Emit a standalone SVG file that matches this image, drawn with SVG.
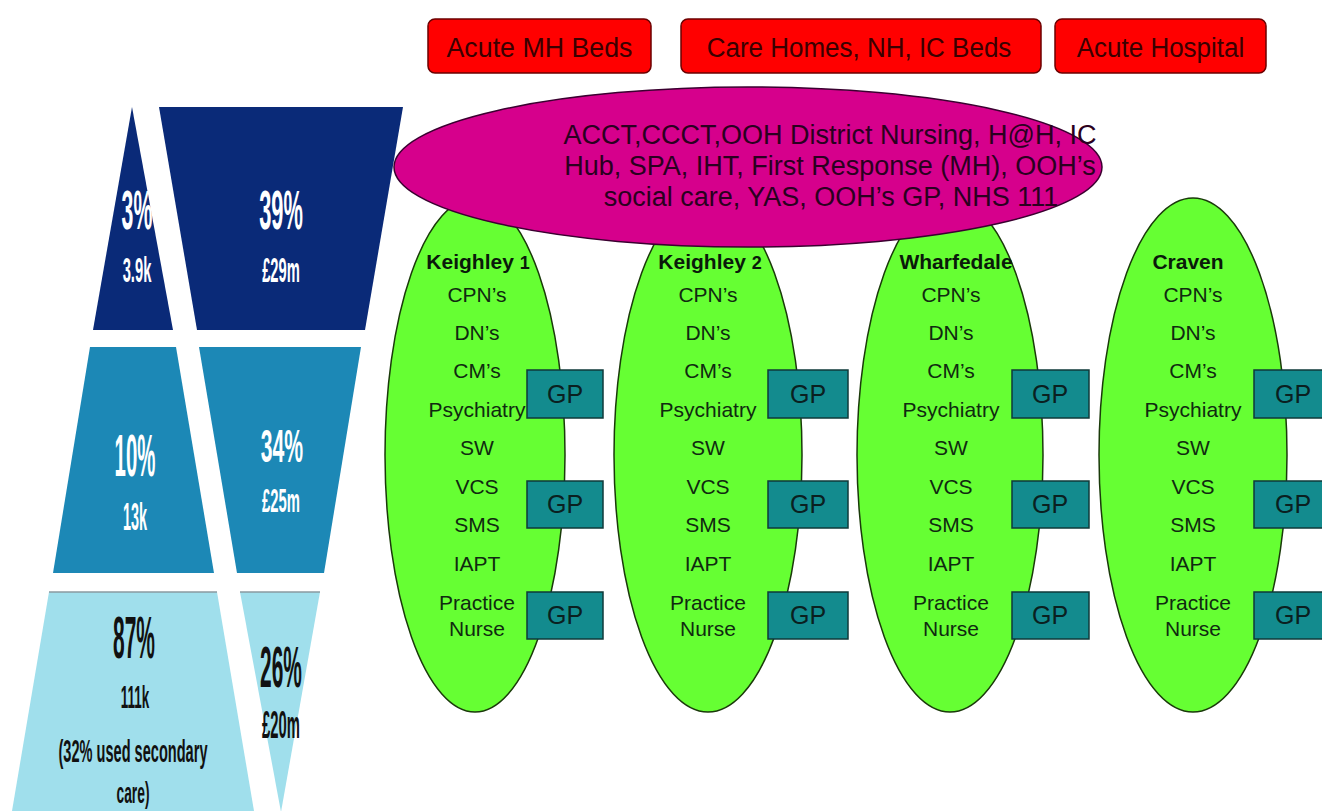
<svg xmlns="http://www.w3.org/2000/svg" width="1322" height="811" viewBox="0 0 1322 811">
<style>
.pt{font-family:"Liberation Sans",Arial,sans-serif;font-weight:bold;text-anchor:middle}
.w{fill:#ffffff}
.k{fill:#111111}
.red{fill:#ff0000;stroke:#6b0000;stroke-width:1.5}
.rt{font-family:"Liberation Sans",Arial,sans-serif;font-size:26px;fill:#3a0000;text-anchor:middle}
.grn{fill:#66ff33;stroke:#1a3a0a;stroke-width:1.5}
.gt{font-family:"Liberation Sans",Arial,sans-serif;font-size:21px;fill:#102a10;text-anchor:middle}
.gh{font-family:"Liberation Sans",Arial,sans-serif;font-size:21px;font-weight:bold;fill:#0a1a0a;text-anchor:middle}
.gp{fill:#138b8e;stroke:#0f3a3a;stroke-width:1.5}
.gpt{font-family:"Liberation Sans",Arial,sans-serif;font-size:25px;fill:#0a2020;text-anchor:middle}
.mt{font-family:"Liberation Sans",Arial,sans-serif;font-size:27px;fill:#2a0020;text-anchor:middle}
</style>
<rect width="1322" height="811" fill="#ffffff"/>
<g id="pyramid">
  <polygon points="132,107 173,330 93,330" fill="#0a2a78"/>
  <polygon points="159,107 403,107 365,330 197,330" fill="#0a2a78"/>
  <polygon points="90,347 176,347 214,573 53,573" fill="#1c88b6"/>
  <polygon points="199,347 361,347 324,573 237,573" fill="#1c88b6"/>
  <polygon points="49,592 217,592 254,811 12,811" fill="#a0dfec"/>
  <polygon points="240,592 320,592 281,812" fill="#a0dfec"/>
  <line x1="49" y1="592" x2="217" y2="592" stroke="#8a9aa0" stroke-width="1.5"/>
  <line x1="240" y1="592" x2="320" y2="592" stroke="#8a9aa0" stroke-width="1.5"/>
  <text class="pt w" font-size="56" transform="translate(137,229) scale(0.38,1)">3%</text>
  <text class="pt w" font-size="36" transform="translate(137,282) scale(0.41,1)">3.9k</text>
  <text class="pt w" font-size="56" transform="translate(281,229) scale(0.39,1)">39%</text>
  <text class="pt w" font-size="36" transform="translate(281,282) scale(0.41,1)">£29m</text>
  <text class="pt w" font-size="60" transform="translate(135,476) scale(0.34,1)">10%</text>
  <text class="pt w" font-size="38" transform="translate(135,530) scale(0.38,1)">13k</text>
  <text class="pt w" font-size="46" transform="translate(282,462) scale(0.46,1)">34%</text>
  <text class="pt w" font-size="33" transform="translate(281,512) scale(0.45,1)">£25m</text>
  <text class="pt k" font-size="60" transform="translate(134,658) scale(0.35,1)">87%</text>
  <text class="pt k" font-size="32" transform="translate(135,708) scale(0.42,1)">111k</text>
  <text class="pt k" font-size="31" transform="translate(133,762) scale(0.47,1)">(32% used secondary</text>
  <text class="pt k" font-size="30" transform="translate(133,803) scale(0.46,1)">care)</text>
  <text class="pt k" font-size="58" transform="translate(281,687) scale(0.36,1)">26%</text>
  <text class="pt k" font-size="38" transform="translate(281,738) scale(0.39,1)">£20m</text>
</g>
<g id="acute-mh-beds">
  <rect class="red" x="428" y="19" width="223" height="54" rx="7"/>
  <text class="rt" transform="translate(539.5,57) scale(1.03,1.07)">Acute MH Beds</text>
</g>
<g id="care-homes">
  <rect class="red" x="681" y="19" width="360" height="54" rx="7"/>
  <text class="rt" transform="translate(859,57) scale(1.0,1.07)">Care Homes, NH, IC Beds</text>
</g>
<g id="acute-hospital">
  <rect class="red" x="1055" y="19" width="211" height="54" rx="7"/>
  <text class="rt" transform="translate(1160.5,57) scale(1.0,1.07)">Acute Hospital</text>
</g>
<g id="keighley1">
  <ellipse class="grn" cx="475" cy="455" rx="90" ry="257"/>
</g>
<g id="keighley2">
  <ellipse class="grn" cx="708" cy="455" rx="94" ry="257"/>
</g>
<g id="wharfedale">
  <ellipse class="grn" cx="950" cy="455" rx="93" ry="257"/>
</g>
<g id="craven">
  <ellipse class="grn" cx="1193" cy="455" rx="94" ry="257"/>
</g>
<g id="hub">
  <ellipse cx="748" cy="167" rx="354" ry="80" fill="#d6008c" stroke="#3a0030" stroke-width="1.5"/>
  <text class="mt" x="830" y="144">ACCT,CCCT,OOH District Nursing, H@H, IC</text>
  <text class="mt" x="830" y="175">Hub, SPA, IHT, First Response (MH), OOH’s</text>
  <text class="mt" x="831" y="206">social care, YAS, OOH’s GP, NHS 111</text>
</g>
<g id="keighley1-text">
  <text class="gh" x="478" y="269">Keighley <tspan font-size="18">1</tspan></text>
  <text class="gt" x="477" y="302">CPN’s</text>
  <text class="gt" x="477" y="340">DN’s</text>
  <text class="gt" x="477" y="378">CM’s</text>
  <text class="gt" x="477" y="417">Psychiatry</text>
  <text class="gt" x="477" y="455">SW</text>
  <text class="gt" x="477" y="494">VCS</text>
  <text class="gt" x="477" y="532">SMS</text>
  <text class="gt" x="477" y="571">IAPT</text>
  <text class="gt" x="477" y="610">Practice</text>
  <text class="gt" x="477" y="636">Nurse</text>
</g>
<g id="keighley2-text">
  <text class="gh" x="710" y="269">Keighley <tspan font-size="18">2</tspan></text>
  <text class="gt" x="708" y="302">CPN’s</text>
  <text class="gt" x="708" y="340">DN’s</text>
  <text class="gt" x="708" y="378">CM’s</text>
  <text class="gt" x="708" y="417">Psychiatry</text>
  <text class="gt" x="708" y="455">SW</text>
  <text class="gt" x="708" y="494">VCS</text>
  <text class="gt" x="708" y="532">SMS</text>
  <text class="gt" x="708" y="571">IAPT</text>
  <text class="gt" x="708" y="610">Practice</text>
  <text class="gt" x="708" y="636">Nurse</text>
</g>
<g id="wharfedale-text">
  <text class="gh" x="956" y="269">Wharfedale</text>
  <text class="gt" x="951" y="302">CPN’s</text>
  <text class="gt" x="951" y="340">DN’s</text>
  <text class="gt" x="951" y="378">CM’s</text>
  <text class="gt" x="951" y="417">Psychiatry</text>
  <text class="gt" x="951" y="455">SW</text>
  <text class="gt" x="951" y="494">VCS</text>
  <text class="gt" x="951" y="532">SMS</text>
  <text class="gt" x="951" y="571">IAPT</text>
  <text class="gt" x="951" y="610">Practice</text>
  <text class="gt" x="951" y="636">Nurse</text>
</g>
<g id="craven-text">
  <text class="gh" x="1188" y="269">Craven</text>
  <text class="gt" x="1193" y="302">CPN’s</text>
  <text class="gt" x="1193" y="340">DN’s</text>
  <text class="gt" x="1193" y="378">CM’s</text>
  <text class="gt" x="1193" y="417">Psychiatry</text>
  <text class="gt" x="1193" y="455">SW</text>
  <text class="gt" x="1193" y="494">VCS</text>
  <text class="gt" x="1193" y="532">SMS</text>
  <text class="gt" x="1193" y="571">IAPT</text>
  <text class="gt" x="1193" y="610">Practice</text>
  <text class="gt" x="1193" y="636">Nurse</text>
</g>
<g id="gp-keighley1">
  <rect class="gp" x="527" y="370" width="76" height="48"/><text class="gpt" x="565" y="403">GP</text>
  <rect class="gp" x="527" y="481" width="76" height="47"/><text class="gpt" x="565" y="513">GP</text>
  <rect class="gp" x="527" y="592" width="76" height="47"/><text class="gpt" x="565" y="624">GP</text>
</g>
<g id="gp-keighley2">
  <rect class="gp" x="768" y="370" width="80" height="48"/><text class="gpt" x="808" y="403">GP</text>
  <rect class="gp" x="768" y="481" width="80" height="47"/><text class="gpt" x="808" y="513">GP</text>
  <rect class="gp" x="768" y="592" width="80" height="47"/><text class="gpt" x="808" y="624">GP</text>
</g>
<g id="gp-wharfedale">
  <rect class="gp" x="1012" y="370" width="77" height="48"/><text class="gpt" x="1050" y="403">GP</text>
  <rect class="gp" x="1012" y="481" width="77" height="47"/><text class="gpt" x="1050" y="513">GP</text>
  <rect class="gp" x="1012" y="592" width="77" height="47"/><text class="gpt" x="1050" y="624">GP</text>
</g>
<g id="gp-craven">
  <rect class="gp" x="1254" y="370" width="80" height="48"/><text class="gpt" x="1293" y="403">GP</text>
  <rect class="gp" x="1254" y="481" width="80" height="47"/><text class="gpt" x="1293" y="513">GP</text>
  <rect class="gp" x="1254" y="592" width="80" height="47"/><text class="gpt" x="1293" y="624">GP</text>
</g>
<g id="connectors"></g>
</svg>
